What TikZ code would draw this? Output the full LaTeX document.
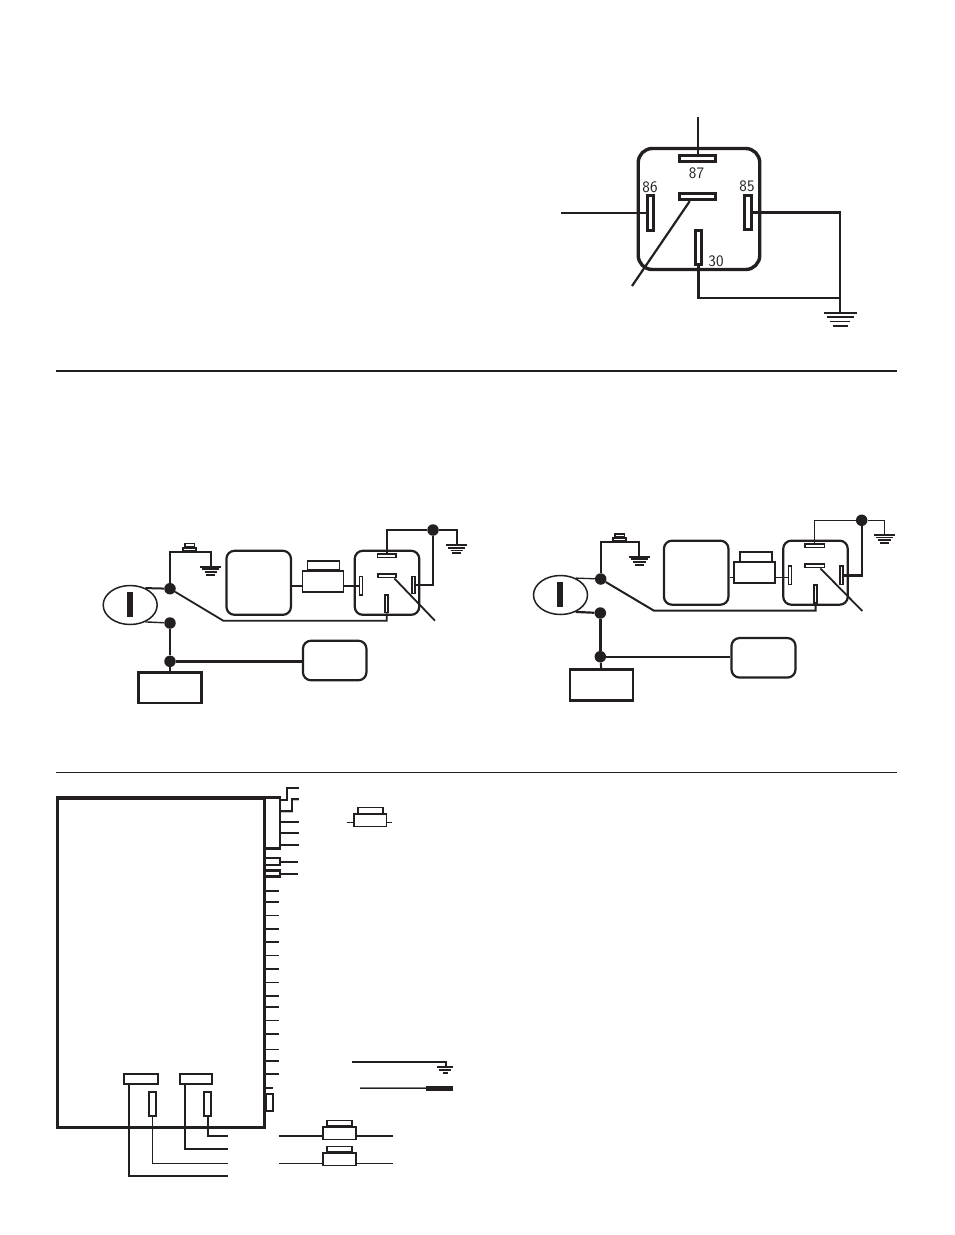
\documentclass[tikz,border=0pt]{standalone}
\usetikzlibrary{shapes.geometric}
\definecolor{ink}{HTML}{231F20}
\tikzset{
	sz/.style 2 args={minimum width=#1,minimum height=#2,inner sep=0pt},
	blade/.style={draw=ink,fill=white,rectangle,line width=1.8},
	bigblade/.style={draw=ink,fill=white,rectangle,line width=2.8},
	case/.style={draw=ink,rectangle,rounded corners=8,line width=2.2},
	plainbox/.style={draw=ink,rectangle,line width=2.2},
	fuse/.style={draw=ink,fill=white,rectangle,line width=1.9},
	dot/.style={fill=ink,circle,minimum size=11.5,inner sep=0pt},
	key/.style={draw=ink,ellipse,line width=1.5},
	wire/.style={draw=ink,line width=#1},
	wire/.default=2,
	pinlabel/.style={text=ink,font=\sffamily\fontsize{16}{16}\selectfont,inner sep=0pt},
	gnd/.pic={
		\draw[ink,line width=1.7] (-16.5,0) -- (16.5,0);
		\draw[ink,line width=1.7] (-13.5,4.2) -- (13.5,4.2);
		\draw[ink,line width=1.7] (-10,8.4) -- (10,8.4);
		\draw[ink,line width=2] (-7.5,13) -- (7.5,13);
	}
}
\begin{document}
\begin{tikzpicture}[x=1pt,y=-1pt]
		\useasboundingbox (0,0) rectangle (954,1235);
		% big relay
		\node[case,rounded corners=14,line width=3.4,sz={121.5}{121}] (relay) at (699,209) {};
		\node[bigblade,sz={36.5}{6.5}] (pin87) at (697.5,158.5) {};
		\node[bigblade,sz={36}{6.5}] (pin87a) at (697.8,196.5) {};
		\node[bigblade,sz={6.5}{35.5}] (pin86) at (650.5,213) {};
		\node[bigblade,sz={7}{34.5}] (pin85) at (747.7,212.5) {};
		\node[bigblade,sz={6.5}{34.5}] (pin30) at (698.5,247.5) {};
		\node[pinlabel] (lab87) at (696.5,173) {87};
		\node[pinlabel] (lab86) at (650,187) {86};
		\node[pinlabel] (lab85) at (747,186) {85};
		\node[pinlabel] (lab30) at (716,261) {30};
		\coordinate (top87) at (698,117);
		\coordinate (left86) at (561,213);
		\coordinate (end87a) at (632,286);
		\coordinate (gndA) at (840,313);
		\draw[wire=2] (top87) -- (top87 |- pin87.north);
		\draw[wire=2.6] (left86) -- (pin86.west);
		\draw[wire=2.2] (pin87a.210) -- (end87a);
		\draw[wire=2.6] (pin85.east) -| (gndA);
		\draw[wire=2.2] (pin30.south) |- (840,298);
		\pic at (gndA) {gnd};
		% rules
		\draw[ink,line width=1.6] (56,371) -- (897,371);
		\draw[ink,line width=1] (56,772) -- (897,772);
		% left circuit
		\node[key,sz={54}{39}] (keyA) at (130.2,605) {};
		\node[fill=ink,sz={5.7}{24.7}] (barA) at (130.2,604.3) {};
		\node[dot] (dotA1) at (170,588.7) {};
		\node[dot] (dotA2) at (170,623) {};
		\node[dot] (dotA3) at (170,661.3) {};
		\node[plainbox,sz={63}{30.5}] (battA) at (170,687.8) {};
		\node[case,sz={63.5}{39.5}] (lampA) at (334.7,660.5) {};
		\node[case,sz={64.5}{64}] (boxA) at (258.7,582.8) {};
		\node[fuse,sz={32}{9.6}] (capA) at (323.5,565.5) {};
		\node[fuse,sz={41}{21}] (fuseA) at (323,581.6) {};
		\node[case,sz={64.5}{64}] (relayA) at (387,582.8) {};
		\node[blade,sz={18.4}{3.4}] (pinAt) at (386.7,555.8) {};
		\node[blade,sz={18.4}{3.4}] (pinAm) at (386.8,575.8) {};
		\node[blade,sz={3}{18.4}] (pinAl) at (361,585.7) {};
		\node[blade,sz={3}{17}] (pinAr) at (413.7,585) {};
		\node[blade,sz={3}{17.7}] (pinAb) at (386.8,603.7) {};
		\node[fuse,line width=1.5,sz={13}{3.2}] (swA) at (189.7,549.5) {};
		\node[fuse,line width=1.5,sz={9.5}{3.2}] (swAt) at (189.5,545.3) {};
		\coordinate (gndB) at (210.7,566.7);
		\coordinate (gndC) at (456.7,545.3);
		\coordinate (jointA) at (223.3,620.7);
		\coordinate (endA) at (435,620.7);
		\node[dot] (dotA4) at (433,530) {};
		\draw[wire=2] (keyA.48) -- (dotA1);
		\draw[wire=1.4] (keyA.-48) -- (dotA2);
		\draw[wire=2.5] (dotA2) -- (dotA3);
		\draw[wire=2] (dotA3) -- (battA.north);
		\draw[wire=2.5] (dotA3) -- (lampA.west |- dotA3);
		\draw[wire=2] (dotA1) |- (gndB |- swA.south) -- (gndB);
		\draw[wire=1.8] (boxA.east |- pinAl) -- (fuseA.west |- pinAl);
		\draw[wire=2] (fuseA.east |- pinAl) -- (pinAl.west);
		\draw[wire=1.8] (dotA1) -- (jointA) -| (pinAb.south);
		\draw[wire=2] (pinAt.north) |- (dotA4) -| (gndC);
		\draw[wire=2] (dotA4) |- (pinAr.east);
		\draw[wire=1.8] (pinAm.-19) -- (endA);
		\pic[scale=.62] at (gndB) {gnd};
		\pic[scale=.62] at (gndC) {gnd};
		% right circuit
		\node[key,sz={54}{39}] (keyB) at (560.5,595) {};
		\node[fill=ink,sz={5.7}{24.7}] (barB) at (560,594.3) {};
		\node[dot] (dotB1) at (600.7,579) {};
		\node[dot] (dotB2) at (600.3,613) {};
		\node[dot] (dotB3) at (600.3,656.7) {};
		\node[plainbox,sz={63}{31}] (battB) at (601.2,685) {};
		\node[case,sz={64}{39.5}] (lampB) at (763.5,657.8) {};
		\node[case,sz={64.5}{64}] (boxB) at (696.2,572.7) {};
		\node[fuse,sz={32}{9.6}] (capB) at (755.7,556.7) {};
		\node[fuse,sz={41}{21}] (fuseB) at (754.8,572.8) {};
		\node[case,sz={64.5}{64}] (relayB) at (815.5,572.7) {};
		\node[blade,sz={19.4}{3.4}] (pinBt) at (814.8,545.8) {};
		\node[blade,sz={19.4}{3.4}] (pinBm) at (814.8,565.8) {};
		\node[blade,sz={3}{18.4}] (pinBl) at (790,575.3) {};
		\node[blade,sz={3}{18.4}] (pinBr) at (841.8,575.3) {};
		\node[blade,line width=1.4,sz={3}{18}] (pinBb) at (815.5,594) {};
		\node[fuse,line width=1.5,sz={13}{3}] (swB) at (619.5,539.7) {};
		\node[fuse,line width=1.5,sz={9.5}{3.2}] (swBt) at (619.5,535.5) {};
		\coordinate (gndD) at (639.3,556.7);
		\coordinate (gndE) at (884.3,535);
		\coordinate (jointB) at (654,610.7);
		\coordinate (endB) at (862.3,611);
		\coordinate (rowB) at (0,577.3);
		\node[dot] (dotB4) at (861.7,520.3) {};
		\draw[wire=1.3] (keyB.48) -- (dotB1);
		\draw[wire=2.2] (keyB.-48) -- (dotB2);
		\draw[wire=2.4] (dotB2) -- (dotB3);
		\draw[wire=2] (dotB3) -- (battB.north);
		\draw[wire=2.2] (dotB3) -- (lampB.west |- dotB3);
		\draw[wire=2] (dotB1) |- (gndD |- swB.south) -- (gndD);
		\draw[wire=1.3] (boxB.east |- rowB) -- (fuseB.west |- rowB);
		\draw[wire=1.3] (fuseB.east |- rowB) -- (pinBl.west |- rowB);
		\draw[wire=2] (dotB1) -- (jointB) -| (pinBb.south);
		\draw[wire=1.2] (pinBt.north) |- (dotB4) -| (gndE);
		\draw[wire=2.4] (dotB4) |- (pinBr.east);
		\draw[wire=1.8] (pinBm.-25) -- (endB);
		\pic[scale=.62] at (gndD) {gnd};
		\pic[scale=.62] at (gndE) {gnd};
		% module
		\node[plainbox,line width=3.2,sz={207}{329.5}] (ecu) at (161,962.7) {};
		\node[plainbox,sz={16}{51}] (connA) at (272.3,823) {};
		\node[plainbox,sz={16}{7}] (connB) at (272.3,861.8) {};
		\node[plainbox,sz={16}{6}] (connC) at (272.3,873.5) {};
		\node[plainbox,sz={7}{17}] (connD) at (269.5,1102.5) {};
		\node[plainbox,sz={33.4}{10.6}] (slotA) at (141,1079) {};
		\node[plainbox,sz={32.6}{10.6}] (slotB) at (196,1079) {};
		\node[plainbox,sz={7.6}{24.6}] (slotC) at (152.5,1104) {};
		\node[plainbox,sz={7.6}{24.6}] (slotD) at (207.5,1104) {};
		\draw[ink,line width=2] (connA.east |- 0,800) -- (286.7,800) -- (286.7,787.7) -- (299,787.7);
		\draw[gray!50,line width=2] (connA.east |- 0,811.5) -- (291.7,811.5) -- (291.7,800) -- (299,800);
		\draw[ink,line width=2] (connA.east |- 0,810.7) -- (291.7,810.7) -- (291.7,799) -- (299,799);
		\foreach \y in {822,833,845}
		{
			\draw[ink,line width=2] (connA.east |- 0,\y) -- (299,\y);
		}
		\draw[ink,line width=2] (connB.east) -- (298,861.8);
		\draw[ink,line width=2] (connC.east) -- (298,873.5);
		\foreach \y/\w in {890.7/2,902/2,915.7/1,929/2,942/2,955.3/1,969/2,982.3/1,996/2,1007/2,1020.3/1,1034/2,1049.3/1,1061/2,1074/2}
		{
			\draw[ink,line width=\w] (ecu.east |- 0,\y) -- (279,\y);
		}
		\draw[ink,line width=2] (ecu.east |- 0,1087.7) -- (273,1087.7);
		% legend fuse
		\node[fuse,line width=1.5,sz={25}{6}] (capL) at (370.3,810.3) {};
		\node[fuse,line width=1.5,sz={32.5}{12.5}] (fuseL) at (370.3,820.3) {};
		\coordinate (legL) at (347,822.3);
		\coordinate (legR) at (392,822.3);
		\draw[wire=1] (legL) -- (fuseL.west |- legL);
		\draw[wire=1] (fuseL.east |- legR) -- (legR);
		% ground lead and sensor lead
		\coordinate (leadG) at (352,1062);
		\coordinate (gndF) at (445.7,1066.7);
		\draw[wire=2] (leadG) -| (gndF);
		\draw[ink,line width=2] (437,1066.7) -- (452.7,1066.7);
		\draw[ink,line width=2] (439,1070) -- (450.5,1070);
		\draw[ink,line width=2] (443,1072.7) -- (448,1072.7);
		\coordinate (leadS) at (360,1088.3);
		\coordinate (tipS) at (426,1088.3);
		\coordinate (tipE) at (453,1088.3);
		\draw[gray,line width=2] (leadS) -- (tipS);
		\draw[ink,line width=1] (leadS) -- (tipS);
		\draw[ink,line width=5] (tipS) -- (tipE);
		% lower leads
		\coordinate (endA1) at (228,1136);
		\coordinate (endA2) at (228,1149);
		\coordinate (endA3) at (228,1163.3);
		\coordinate (endA4) at (228,1176);
		\draw[wire=2] (slotD.south) |- (endA1);
		\draw[wire=2] (slotB.south -| 184.7,0) |- (endA2);
		\draw[wire=1.6] (slotC.south) |- (endA3);
		\draw[wire=1.8] (slotA.south -| 128.7,0) |- (endA4);
		\node[fuse,line width=1.5,sz={25}{5.5}] (capF1) at (339.5,1123.3) {};
		\node[fuse,line width=1.5,sz={32.8}{12.5}] (fuseF1) at (339.5,1133.3) {};
		\node[fuse,line width=1.5,sz={25}{5.5}] (capF2) at (339.5,1149.3) {};
		\node[fuse,line width=1.5,sz={32.8}{12.5}] (fuseF2) at (339.5,1159.3) {};
		\coordinate (wireF1) at (279,1136);
		\coordinate (wireG1) at (393,1136);
		\coordinate (wireF2) at (279,1163.3);
		\coordinate (wireG2) at (393,1163.3);
		\draw[wire=2] (wireF1) -- (fuseF1.west |- wireF1);
		\draw[wire=2] (fuseF1.east |- wireG1) -- (wireG1);
		\draw[wire=1.2] (wireF2) -- (fuseF2.west |- wireF2);
		\draw[wire=1.2] (fuseF2.east |- wireG2) -- (wireG2);
		\end{tikzpicture}
\end{document}
